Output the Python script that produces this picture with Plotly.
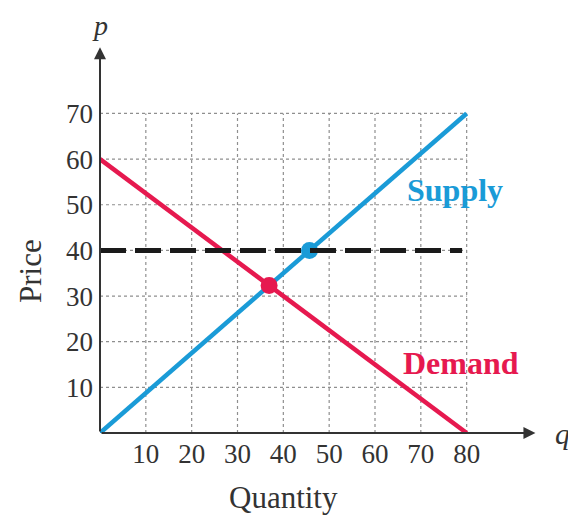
import plotly.graph_objects as go

# Data
q_supply = [0, 80]
p_supply = [0, 70]
q_demand = [0, 80]
p_demand = [60, 0]
price_line_q = [0, 79]
price_line_p = [40, 40]
equilibrium_q = [36.9]
equilibrium_p = [32.3]
supply_at_40_q = [45.7]
supply_at_40_p = [40]
x_ticks = [10, 20, 30, 40, 50, 60, 70, 80]
y_ticks = [10, 20, 30, 40, 50, 60, 70]

BLUE = "#1a9bd7"
RED = "#e6194f"
SERIF = "Liberation Serif"
AX = "#333333"

fig = go.Figure()

# dotted grid
shapes = []
for xv in x_ticks:
    shapes.append(dict(type="line", x0=xv, x1=xv, y0=0, y1=max(y_ticks), xref="x", yref="y",
                       line=dict(color="#8f8f8f", width=1.2, dash="dot"), layer="below"))
for yv in y_ticks:
    shapes.append(dict(type="line", x0=0, x1=max(x_ticks), y0=yv, y1=yv, xref="x", yref="y",
                       line=dict(color="#8f8f8f", width=1.2, dash="dot"), layer="below"))

fig.add_trace(go.Scatter(x=q_supply, y=p_supply, mode="lines", line=dict(color=BLUE, width=4.5), hoverinfo="skip"))
fig.add_trace(go.Scatter(x=q_demand, y=p_demand, mode="lines", line=dict(color=RED, width=4.5), hoverinfo="skip"))
fig.add_trace(go.Scatter(x=supply_at_40_q, y=supply_at_40_p, mode="markers",
                         marker=dict(color=BLUE, size=17), hoverinfo="skip"))
fig.add_trace(go.Scatter(x=price_line_q, y=price_line_p, mode="lines",
                         line=dict(color="#1a1a1a", width=5, dash="26px,9px"), hoverinfo="skip"))
fig.add_trace(go.Scatter(x=equilibrium_q, y=equilibrium_p, mode="markers",
                         marker=dict(color=RED, size=17), hoverinfo="skip"))

annotations = [
    # axes with arrows
    dict(x=95, y=0, ax=0, ay=0, xref="x", yref="y", axref="x", ayref="y", showarrow=True,
         arrowhead=2, arrowsize=1.2, arrowwidth=2, arrowcolor=AX, text=""),
    dict(x=0, y=84.5, ax=0, ay=0, xref="x", yref="y", axref="x", ayref="y", showarrow=True,
         arrowhead=2, arrowsize=1.2, arrowwidth=2, arrowcolor=AX, text=""),
    dict(x=1.052, y=0.0, xref="paper", yref="paper", text="<i>q</i>", showarrow=False,
         font=dict(family=SERIF, size=30, color=AX), xanchor="center", yanchor="middle"),
    dict(x=0.0, y=1.0954, xref="paper", yref="paper", text="<i>p</i>", showarrow=False,
         font=dict(family=SERIF, size=28, color=AX), xanchor="center", yanchor="top"),
    dict(x=0.418, y=-0.165, xref="paper", yref="paper", text="Quantity", showarrow=False,
         font=dict(family=SERIF, size=31, color=AX), xanchor="center", yanchor="middle"),
    dict(x=-0.159, y=0.4175, xref="paper", yref="paper", text="Price", showarrow=False, textangle=-90,
         font=dict(family=SERIF, size=31, color=AX), xanchor="center", yanchor="middle"),
    dict(x=77.5, y=53.2, xref="x", yref="y", text="<b>Supply</b>", showarrow=False,
         font=dict(family=SERIF, size=32, color=BLUE), xanchor="center", yanchor="middle"),
    dict(x=78.8, y=15.3, xref="x", yref="y", text="<b>Demand</b>", showarrow=False,
         font=dict(family=SERIF, size=32, color=RED), xanchor="center", yanchor="middle"),
]

fig.update_layout(
    width=568, height=510,
    margin=dict(l=92, r=36, t=37, b=85),
    plot_bgcolor="white", paper_bgcolor="white",
    showlegend=False,
    shapes=shapes,
    annotations=annotations,
    xaxis=dict(range=[0, 96], tickvals=x_ticks, ticktext=[str(v) for v in x_ticks],
               showgrid=False, zeroline=False, showline=False, ticks="",
               tickfont=dict(family=SERIF, size=27, color=AX), ticklabelstandoff=2),
    yaxis=dict(range=[0, 85], tickvals=y_ticks, ticktext=[str(v) for v in y_ticks],
               showgrid=False, zeroline=False, showline=False, ticks="",
               tickfont=dict(family=SERIF, size=27, color=AX), ticklabelstandoff=6),
)

fig.write_html("out.html")
